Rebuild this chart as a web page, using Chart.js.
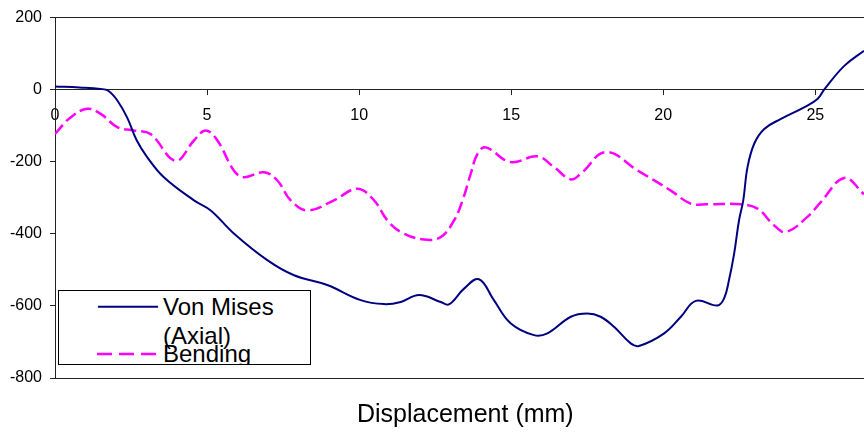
<!DOCTYPE html>
<html>
<head>
<meta charset="utf-8">
<script src="https://cdn.jsdelivr.net/npm/chart.js@4"></script>
<style>
  body { margin: 0; background: #fff; }
  #wrap { position: relative; width: 864px; height: 432px; }
  #legend {
    position: absolute; left: 58px; top: 290px; width: 253px; height: 75px;
    box-sizing: border-box; border: 1px solid #000; background: #fff; overflow: hidden;
    font-family: "Liberation Sans", Arial, sans-serif; font-size: 24px; line-height: 24px; color: #000;
  }
  #legend span { position: absolute; left: 104px; white-space: nowrap; }
  #legend svg { position: absolute; left: 0; top: 0; }
  #xtitle {
    position: absolute; left: 357px; top: 400.5px; white-space: nowrap;
    font-family: "Liberation Sans", Arial, sans-serif; font-size: 25px; line-height: 25px; color: #000;
  }
</style>
</head>
<body>
<div id="wrap">
  <canvas id="chart" width="864" height="432"></canvas>
  <div id="legend">
    <svg width="251" height="73">
      <line x1="39" y1="15.7" x2="99" y2="15.7" stroke="#000080" stroke-width="2"/>
      <line x1="38" y1="63" x2="98" y2="63" stroke="#ff00ff" stroke-width="2.5" stroke-dasharray="15 7"/>
    </svg>
    <span style="top:3.7px">Von Mises</span>
    <span style="top:32.7px">(Axial)</span>
    <span style="top:50.7px">Bending</span>
  </div>
  <div id="xtitle">Displacement (mm)</div>
</div>
<script>
// Von Mises (axial) curve
const vmX = [0, 0.8, 1.5, 1.75, 2.05, 2.37, 2.69, 3.03, 3.58, 4.57, 5.12, 5.88, 6.98, 7.86, 8.95,
  10.05, 10.82, 11.37, 11.97, 12.68, 12.95, 13.45, 13.94, 14.43, 14.98, 15.75, 16.19, 16.96, 17.5,
  17.94, 18.38, 18.93, 19.2, 20.03, 20.58, 21.07, 21.78, 22.0, 22.16, 22.33, 22.49, 22.63, 22.77,
  22.99, 23.32, 23.87, 24.63, 25.07, 25.29, 25.95, 26.6];
const vmY = [9, 6, 2, -3, -30, -77, -141, -187, -243, -307, -335, -399, -473, -515, -542,
  -584, -595, -589, -570, -589, -596, -552, -526, -584, -648, -681, -676, -630, -621,
  -630, -658, -704, -711, -676, -630, -586, -599, -579, -529, -455, -363, -307, -215,
  -150, -109, -81, -49, -26, 0, 66, 108];

// Bending curve
const bendX = [0, 0.51, 1.06, 1.5, 2.05, 2.59, 3.14, 3.96, 4.57, 4.95, 5.34, 5.88, 6.21, 6.87, 7.31,
  7.75, 8.3, 9.17, 9.94, 10.49, 10.93, 11.37, 12.13, 12.68, 13.12, 13.4, 13.67, 13.89, 14.16,
  14.98, 15.86, 16.41, 16.96, 17.29, 18.11, 19.15, 20.25, 20.9, 21.45, 22.55, 23.1, 23.64, 24.03,
  24.74, 25.18, 25.95, 26.6];
const bendY = [-123, -77, -53, -67, -104, -113, -123, -197, -141, -113, -141, -224, -243, -229, -252,
  -307, -335, -307, -275, -307, -363, -395, -416, -409, -363, -307, -233, -178, -160,
  -201, -185, -215, -249, -233, -173, -224, -280, -316, -318, -318, -330, -376, -395,
  -353, -312, -245, -290];

const xTicks = [0, 5, 10, 15, 20, 25];
const yTicks = [200, 0, -200, -400, -600, -800];

const FONT = '"Liberation Sans", Arial, sans-serif';
const AXIS = '#222';

function toPoints(xs, ys) {
    return xs.map((x, i) => ({ x, y: ys[i] }));
}

new Chart(document.getElementById('chart'), {
    type: 'scatter',
    data: {
        datasets: [
            {
                label: 'Von Mises (Axial)',
                data: toPoints(vmX, vmY),
                showLine: true,
                borderColor: '#000080',
                borderWidth: 2,
                pointRadius: 0,
                tension: 0.4
            },
            {
                label: 'Bending',
                data: toPoints(bendX, bendY),
                showLine: true,
                borderColor: '#ff00ff',
                borderWidth: 2.5,
                borderDash: [12, 5],
                pointRadius: 0,
                tension: 0.4
            }
        ]
    },
    options: {
        responsive: false,
        animation: false,
        layout: { padding: { top: 7, left: 0, right: 0, bottom: 54 } },
        plugins: {
            legend: { display: false },
            tooltip: { enabled: false }
        },
        scales: {
            x: {
                type: 'linear',
                position: { y: 0 },
                min: 0,
                max: 26.6,
                afterBuildTicks: (scale) => { scale.ticks = xTicks.map(v => ({ value: v })); },
                ticks: {
                    color: '#000',
                    font: { family: FONT, size: 16 },
                    padding: 11,
                    maxRotation: 0
                },
                grid: {
                    drawOnChartArea: false,
                    tickColor: AXIS,
                    tickLength: 5
                },
                border: { display: true, color: AXIS, width: 1 }
            },
            y: {
                min: -800,
                max: 200,
                afterBuildTicks: (scale) => { scale.ticks = yTicks.map(v => ({ value: v })); },
                afterFit: (scale) => { scale.width = 55; },
                ticks: {
                    color: '#000',
                    font: { family: FONT, size: 16 },
                    padding: 8
                },
                grid: {
                    color: (ctx) => (ctx.tick && (ctx.tick.value === 200 || ctx.tick.value === -800)) ? AXIS : 'rgba(0,0,0,0)',
                    tickColor: AXIS,
                    tickLength: 5
                },
                border: { display: true, color: AXIS, width: 1 }
            }
        }
    }
});
</script>
</body>
</html>
